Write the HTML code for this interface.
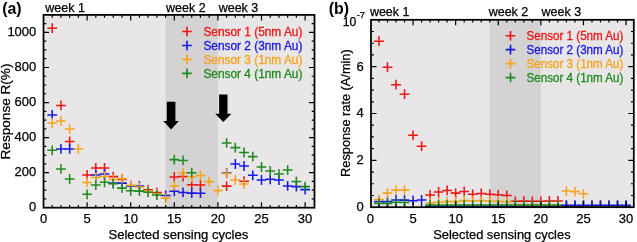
<!DOCTYPE html>
<html><head><meta charset="utf-8"><style>
html,body{margin:0;padding:0;background:#fff;width:637px;height:242px;overflow:hidden}
svg text{font-family:"Liberation Sans", sans-serif}
svg{will-change:transform}
</style></head><body><svg width="637" height="242" viewBox="0 0 637 242" style="display:block"><rect width="637" height="242" fill="#fff"/><rect x="43.5" y="14.9" width="271" height="192.8" fill="#e8e6e7"/><rect x="165.58" y="14.9" width="52.32" height="192.8" fill="#d4d2d3"/><clipPath id="ca"><rect x="43.5" y="14.9" width="271" height="192.8"/></clipPath><g clip-path="url(#ca)"><path d="M47.32 28.2H57.12M52.22 23.3V33.1" stroke="#f01414" stroke-width="1.55"/><path d="M56.04 105.4H65.84M60.94 100.5V110.3" stroke="#f01414" stroke-width="1.55"/><path d="M64.76 141.4H74.56M69.66 136.5V146.3" stroke="#f01414" stroke-width="1.55"/><path d="M82.2 175H92M87.1 170.1V179.9" stroke="#f01414" stroke-width="1.55"/><path d="M90.92 167.9H100.72M95.82 163V172.8" stroke="#f01414" stroke-width="1.55"/><path d="M99.64 167.9H109.44M104.54 163V172.8" stroke="#f01414" stroke-width="1.55"/><path d="M108.36 176.6H118.16M113.26 171.7V181.5" stroke="#f01414" stroke-width="1.55"/><path d="M117.08 179.5H126.88M121.98 174.6V184.4" stroke="#f01414" stroke-width="1.55"/><path d="M143.24 189.7H153.04M148.14 184.8V194.6" stroke="#f01414" stroke-width="1.55"/><path d="M151.96 192.4H161.76M156.86 187.5V197.3" stroke="#f01414" stroke-width="1.55"/><path d="M169.4 176.9H179.2M174.3 172V181.8" stroke="#f01414" stroke-width="1.55"/><path d="M178.12 176.5H187.92M183.02 171.6V181.4" stroke="#f01414" stroke-width="1.55"/><path d="M186.84 184.7H196.64M191.74 179.8V189.6" stroke="#f01414" stroke-width="1.55"/><path d="M195.56 185H205.36M200.46 180.1V189.9" stroke="#f01414" stroke-width="1.55"/><path d="M221.72 186.1H231.52M226.62 181.2V191" stroke="#f01414" stroke-width="1.55"/><path d="M239.16 181.2H248.96M244.06 176.3V186.1" stroke="#f01414" stroke-width="1.55"/><path d="M47.32 114.9H57.12M52.22 110V119.8" stroke="#1818e6" stroke-width="1.55"/><path d="M56.04 148.9H65.84M60.94 144V153.8" stroke="#1818e6" stroke-width="1.55"/><path d="M64.76 148.9H74.56M69.66 144V153.8" stroke="#1818e6" stroke-width="1.55"/><path d="M90.92 175H100.72M95.82 170.1V179.9" stroke="#1818e6" stroke-width="1.55"/><path d="M99.64 174H109.44M104.54 169.1V178.9" stroke="#1818e6" stroke-width="1.55"/><path d="M108.36 183.1H118.16M113.26 178.2V188" stroke="#1818e6" stroke-width="1.55"/><path d="M117.08 183.1H126.88M121.98 178.2V188" stroke="#1818e6" stroke-width="1.55"/><path d="M125.8 186H135.6M130.7 181.1V190.9" stroke="#1818e6" stroke-width="1.55"/><path d="M134.52 186H144.32M139.42 181.1V190.9" stroke="#1818e6" stroke-width="1.55"/><path d="M160.68 195.5H170.48M165.58 190.6V200.4" stroke="#1818e6" stroke-width="1.55"/><path d="M169.4 191.3H179.2M174.3 186.4V196.2" stroke="#1818e6" stroke-width="1.55"/><path d="M178.12 192.4H187.92M183.02 187.5V197.3" stroke="#1818e6" stroke-width="1.55"/><path d="M186.84 193.1H196.64M191.74 188.2V198" stroke="#1818e6" stroke-width="1.55"/><path d="M195.56 193.2H205.36M200.46 188.3V198.1" stroke="#1818e6" stroke-width="1.55"/><path d="M221.72 172.9H231.52M226.62 168V177.8" stroke="#1818e6" stroke-width="1.55"/><path d="M230.44 164H240.24M235.34 159.1V168.9" stroke="#1818e6" stroke-width="1.55"/><path d="M239.16 166H248.96M244.06 161.1V170.9" stroke="#1818e6" stroke-width="1.55"/><path d="M247.88 175.3H257.68M252.78 170.4V180.2" stroke="#1818e6" stroke-width="1.55"/><path d="M256.6 180H266.4M261.5 175.1V184.9" stroke="#1818e6" stroke-width="1.55"/><path d="M265.32 179.3H275.12M270.22 174.4V184.2" stroke="#1818e6" stroke-width="1.55"/><path d="M274.04 180H283.84M278.94 175.1V184.9" stroke="#1818e6" stroke-width="1.55"/><path d="M282.76 185.9H292.56M287.66 181V190.8" stroke="#1818e6" stroke-width="1.55"/><path d="M291.48 186.6H301.28M296.38 181.7V191.5" stroke="#1818e6" stroke-width="1.55"/><path d="M300.2 189.6H310M305.1 184.7V194.5" stroke="#1818e6" stroke-width="1.55"/><path d="M47.32 123H57.12M52.22 118.1V127.9" stroke="#f7a21b" stroke-width="1.55"/><path d="M56.04 120.9H65.84M60.94 116V125.8" stroke="#f7a21b" stroke-width="1.55"/><path d="M64.76 129H74.56M69.66 124.1V133.9" stroke="#f7a21b" stroke-width="1.55"/><path d="M73.48 148.9H83.28M78.38 144V153.8" stroke="#f7a21b" stroke-width="1.55"/><path d="M82.2 182.4H92M87.1 177.5V187.3" stroke="#f7a21b" stroke-width="1.55"/><path d="M90.92 177.4H100.72M95.82 172.5V182.3" stroke="#f7a21b" stroke-width="1.55"/><path d="M99.64 176.5H109.44M104.54 171.6V181.4" stroke="#f7a21b" stroke-width="1.55"/><path d="M108.36 179.5H118.16M113.26 174.6V184.4" stroke="#f7a21b" stroke-width="1.55"/><path d="M117.08 178.7H126.88M121.98 173.8V183.6" stroke="#f7a21b" stroke-width="1.55"/><path d="M125.8 185.2H135.6M130.7 180.3V190.1" stroke="#f7a21b" stroke-width="1.55"/><path d="M134.52 187H144.32M139.42 182.1V191.9" stroke="#f7a21b" stroke-width="1.55"/><path d="M143.24 190.9H153.04M148.14 186V195.8" stroke="#f7a21b" stroke-width="1.55"/><path d="M151.96 193.8H161.76M156.86 188.9V198.7" stroke="#f7a21b" stroke-width="1.55"/><path d="M160.68 198.3H170.48M165.58 193.4V203.2" stroke="#f7a21b" stroke-width="1.55"/><path d="M169.4 185.7H179.2M174.3 180.8V190.6" stroke="#f7a21b" stroke-width="1.55"/><path d="M178.12 172.9H187.92M183.02 168V177.8" stroke="#f7a21b" stroke-width="1.55"/><path d="M186.84 177H196.64M191.74 172.1V181.9" stroke="#f7a21b" stroke-width="1.55"/><path d="M195.56 175.5H205.36M200.46 170.6V180.4" stroke="#f7a21b" stroke-width="1.55"/><path d="M204.28 181.6H214.08M209.18 176.7V186.5" stroke="#f7a21b" stroke-width="1.55"/><path d="M213 190.5H222.8M217.9 185.6V195.4" stroke="#f7a21b" stroke-width="1.55"/><path d="M221.72 173.5H231.52M226.62 168.6V178.4" stroke="#f7a21b" stroke-width="1.55"/><path d="M230.44 180H240.24M235.34 175.1V184.9" stroke="#f7a21b" stroke-width="1.55"/><path d="M239.16 184H248.96M244.06 179.1V188.9" stroke="#f7a21b" stroke-width="1.55"/><path d="M47.32 150.3H57.12M52.22 145.4V155.2" stroke="#1f8a1f" stroke-width="1.55"/><path d="M56.04 168.9H65.84M60.94 164V173.8" stroke="#1f8a1f" stroke-width="1.55"/><path d="M64.76 179H74.56M69.66 174.1V183.9" stroke="#1f8a1f" stroke-width="1.55"/><path d="M82.2 194.3H92M87.1 189.4V199.2" stroke="#1f8a1f" stroke-width="1.55"/><path d="M90.92 185H100.72M95.82 180.1V189.9" stroke="#1f8a1f" stroke-width="1.55"/><path d="M99.64 182.3H109.44M104.54 177.4V187.2" stroke="#1f8a1f" stroke-width="1.55"/><path d="M108.36 183.8H118.16M113.26 178.9V188.7" stroke="#1f8a1f" stroke-width="1.55"/><path d="M117.08 188.1H126.88M121.98 183.2V193" stroke="#1f8a1f" stroke-width="1.55"/><path d="M125.8 190.8H135.6M130.7 185.9V195.7" stroke="#1f8a1f" stroke-width="1.55"/><path d="M134.52 191.1H144.32M139.42 186.2V196" stroke="#1f8a1f" stroke-width="1.55"/><path d="M143.24 192.3H153.04M148.14 187.4V197.2" stroke="#1f8a1f" stroke-width="1.55"/><path d="M151.96 195H161.76M156.86 190.1V199.9" stroke="#1f8a1f" stroke-width="1.55"/><path d="M169.4 159.6H179.2M174.3 154.7V164.5" stroke="#1f8a1f" stroke-width="1.55"/><path d="M178.12 160.4H187.92M183.02 155.5V165.3" stroke="#1f8a1f" stroke-width="1.55"/><path d="M186.84 172.7H196.64M191.74 167.8V177.6" stroke="#1f8a1f" stroke-width="1.55"/><path d="M221.72 142.9H231.52M226.62 138V147.8" stroke="#1f8a1f" stroke-width="1.55"/><path d="M230.44 147.6H240.24M235.34 142.7V152.5" stroke="#1f8a1f" stroke-width="1.55"/><path d="M239.16 152.5H248.96M244.06 147.6V157.4" stroke="#1f8a1f" stroke-width="1.55"/><path d="M247.88 156.6H257.68M252.78 151.7V161.5" stroke="#1f8a1f" stroke-width="1.55"/><path d="M256.6 167H266.4M261.5 162.1V171.9" stroke="#1f8a1f" stroke-width="1.55"/><path d="M265.32 171H275.12M270.22 166.1V175.9" stroke="#1f8a1f" stroke-width="1.55"/><path d="M274.04 174H283.84M278.94 169.1V178.9" stroke="#1f8a1f" stroke-width="1.55"/><path d="M282.76 170H292.56M287.66 165.1V174.9" stroke="#1f8a1f" stroke-width="1.55"/><path d="M291.48 181.4H301.28M296.38 176.5V186.3" stroke="#1f8a1f" stroke-width="1.55"/><path d="M300.2 186.6H310M305.1 181.7V191.5" stroke="#1f8a1f" stroke-width="1.55"/></g><path d="M52.22 207.7V204.9M52.22 14.9V17.7M60.94 207.7V204.9M60.94 14.9V17.7M69.66 207.7V204.9M69.66 14.9V17.7M78.38 207.7V204.9M78.38 14.9V17.7M87.1 207.7V202.2M87.1 14.9V20.4M95.82 207.7V204.9M95.82 14.9V17.7M104.54 207.7V204.9M104.54 14.9V17.7M113.26 207.7V204.9M113.26 14.9V17.7M121.98 207.7V204.9M121.98 14.9V17.7M130.7 207.7V202.2M130.7 14.9V20.4M139.42 207.7V204.9M139.42 14.9V17.7M148.14 207.7V204.9M148.14 14.9V17.7M156.86 207.7V204.9M156.86 14.9V17.7M165.58 207.7V204.9M165.58 14.9V17.7M174.3 207.7V202.2M174.3 14.9V20.4M183.02 207.7V204.9M183.02 14.9V17.7M191.74 207.7V204.9M191.74 14.9V17.7M200.46 207.7V204.9M200.46 14.9V17.7M209.18 207.7V204.9M209.18 14.9V17.7M217.9 207.7V202.2M217.9 14.9V20.4M226.62 207.7V204.9M226.62 14.9V17.7M235.34 207.7V204.9M235.34 14.9V17.7M244.06 207.7V204.9M244.06 14.9V17.7M252.78 207.7V204.9M252.78 14.9V17.7M261.5 207.7V202.2M261.5 14.9V20.4M270.22 207.7V204.9M270.22 14.9V17.7M278.94 207.7V204.9M278.94 14.9V17.7M287.66 207.7V204.9M287.66 14.9V17.7M296.38 207.7V204.9M296.38 14.9V17.7M305.1 207.7V202.2M305.1 14.9V20.4M43.5 198.94H46.3M314.5 198.94H311.7M43.5 190.17H46.3M314.5 190.17H311.7M43.5 181.41H46.3M314.5 181.41H311.7M43.5 172.65H49M314.5 172.65H309M43.5 163.88H46.3M314.5 163.88H311.7M43.5 155.12H46.3M314.5 155.12H311.7M43.5 146.35H46.3M314.5 146.35H311.7M43.5 137.59H49M314.5 137.59H309M43.5 128.83H46.3M314.5 128.83H311.7M43.5 120.06H46.3M314.5 120.06H311.7M43.5 111.3H46.3M314.5 111.3H311.7M43.5 102.54H49M314.5 102.54H309M43.5 93.77H46.3M314.5 93.77H311.7M43.5 85.01H46.3M314.5 85.01H311.7M43.5 76.25H46.3M314.5 76.25H311.7M43.5 67.48H49M314.5 67.48H309M43.5 58.72H46.3M314.5 58.72H311.7M43.5 49.95H46.3M314.5 49.95H311.7M43.5 41.19H46.3M314.5 41.19H311.7M43.5 32.43H49M314.5 32.43H309M43.5 23.66H46.3M314.5 23.66H311.7" stroke="#000" stroke-width="1.2" fill="none"/><rect x="43.5" y="14.9" width="271" height="192.8" fill="none" stroke="#000" stroke-width="1.75"/><path d="M182.2 31.5H191.8M187 26.7V36.3" stroke="#f01414" stroke-width="1.65"/><text x="203.4" y="35.8" fill="#f01414" stroke="#f01414" stroke-width="0.3" font-size="11.9" textLength="99" lengthAdjust="spacingAndGlyphs">Sensor 1 (5nm Au)</text><path d="M182.2 45.45H191.8M187 40.65V50.25" stroke="#1818e6" stroke-width="1.65"/><text x="203.4" y="49.75" fill="#1818e6" stroke="#1818e6" stroke-width="0.3" font-size="11.9" textLength="99" lengthAdjust="spacingAndGlyphs">Sensor 2 (3nm Au)</text><path d="M182.2 59.4H191.8M187 54.6V64.2" stroke="#f7a21b" stroke-width="1.65"/><text x="203.4" y="63.7" fill="#f7a21b" stroke="#f7a21b" stroke-width="0.3" font-size="11.9" textLength="99" lengthAdjust="spacingAndGlyphs">Sensor 3 (1nm Au)</text><path d="M182.2 73.35H191.8M187 68.55V78.15" stroke="#1f8a1f" stroke-width="1.65"/><text x="203.4" y="77.65" fill="#1f8a1f" stroke="#1f8a1f" stroke-width="0.3" font-size="11.9" textLength="99" lengthAdjust="spacingAndGlyphs">Sensor 4 (1nm Au)</text><rect x="371" y="19.8" width="262.8" height="187.4" fill="#e8e6e7"/><rect x="489.73" y="19.8" width="51.12" height="187.4" fill="#d4d2d3"/><clipPath id="cb"><rect x="371" y="19.8" width="262.8" height="187.4"/></clipPath><g clip-path="url(#cb)"><path d="M374.07 41.2H383.87M378.97 36.3V46.1" stroke="#f01414" stroke-width="1.55"/><path d="M382.59 67.2H392.39M387.49 62.3V72.1" stroke="#f01414" stroke-width="1.55"/><path d="M391.11 84.7H400.91M396.01 79.8V89.6" stroke="#f01414" stroke-width="1.55"/><path d="M399.63 94.2H409.43M404.53 89.3V99.1" stroke="#f01414" stroke-width="1.55"/><path d="M408.15 135.3H417.95M413.05 130.4V140.2" stroke="#f01414" stroke-width="1.55"/><path d="M416.67 146.2H426.47M421.57 141.3V151.1" stroke="#f01414" stroke-width="1.55"/><path d="M425.19 194.9H434.99M430.09 190V199.8" stroke="#f01414" stroke-width="1.55"/><path d="M433.71 192H443.51M438.61 187.1V196.9" stroke="#f01414" stroke-width="1.55"/><path d="M442.23 190.4H452.03M447.13 185.5V195.3" stroke="#f01414" stroke-width="1.55"/><path d="M450.75 193.1H460.55M455.65 188.2V198" stroke="#f01414" stroke-width="1.55"/><path d="M459.27 191.5H469.07M464.17 186.6V196.4" stroke="#f01414" stroke-width="1.55"/><path d="M467.79 194.3H477.59M472.69 189.4V199.2" stroke="#f01414" stroke-width="1.55"/><path d="M476.31 193.5H486.11M481.21 188.6V198.4" stroke="#f01414" stroke-width="1.55"/><path d="M484.83 194.2H494.63M489.73 189.3V199.1" stroke="#f01414" stroke-width="1.55"/><path d="M493.35 194.8H503.15M498.25 189.9V199.7" stroke="#f01414" stroke-width="1.55"/><path d="M501.87 195.5H511.67M506.77 190.6V200.4" stroke="#f01414" stroke-width="1.55"/><path d="M510.39 201.3H520.19M515.29 196.4V206.2" stroke="#f01414" stroke-width="1.55"/><path d="M518.91 201.1H528.71M523.81 196.2V206" stroke="#f01414" stroke-width="1.55"/><path d="M527.43 201.3H537.23M532.33 196.4V206.2" stroke="#f01414" stroke-width="1.55"/><path d="M535.95 201.3H545.75M540.85 196.4V206.2" stroke="#f01414" stroke-width="1.55"/><path d="M544.47 200.9H554.27M549.37 196V205.8" stroke="#f01414" stroke-width="1.55"/><path d="M552.99 200.9H562.79M557.89 196V205.8" stroke="#f01414" stroke-width="1.55"/><path d="M561.51 206.4H571.31M566.41 201.5V211.3" stroke="#f01414" stroke-width="1.55"/><path d="M570.03 206.4H579.83M574.93 201.5V211.3" stroke="#f01414" stroke-width="1.55"/><path d="M578.55 206.4H588.35M583.45 201.5V211.3" stroke="#f01414" stroke-width="1.55"/><path d="M587.07 206.4H596.87M591.97 201.5V211.3" stroke="#f01414" stroke-width="1.55"/><path d="M595.59 206.4H605.39M600.49 201.5V211.3" stroke="#f01414" stroke-width="1.55"/><path d="M604.11 206.4H613.91M609.01 201.5V211.3" stroke="#f01414" stroke-width="1.55"/><path d="M612.63 206.4H622.43M617.53 201.5V211.3" stroke="#f01414" stroke-width="1.55"/><path d="M621.15 206.4H630.95M626.05 201.5V211.3" stroke="#f01414" stroke-width="1.55"/><path d="M374.07 201.6H383.87M378.97 196.7V206.5" stroke="#1818e6" stroke-width="1.55"/><path d="M382.59 201.6H392.39M387.49 196.7V206.5" stroke="#1818e6" stroke-width="1.55"/><path d="M391.11 199.9H400.91M396.01 195V204.8" stroke="#1818e6" stroke-width="1.55"/><path d="M399.63 200.1H409.43M404.53 195.2V205" stroke="#1818e6" stroke-width="1.55"/><path d="M408.15 200.7H417.95M413.05 195.8V205.6" stroke="#1818e6" stroke-width="1.55"/><path d="M416.67 199.9H426.47M421.57 195V204.8" stroke="#1818e6" stroke-width="1.55"/><path d="M425.19 206.3H434.99M430.09 201.4V211.2" stroke="#1818e6" stroke-width="1.55"/><path d="M433.71 206.3H443.51M438.61 201.4V211.2" stroke="#1818e6" stroke-width="1.55"/><path d="M442.23 206.3H452.03M447.13 201.4V211.2" stroke="#1818e6" stroke-width="1.55"/><path d="M450.75 206.3H460.55M455.65 201.4V211.2" stroke="#1818e6" stroke-width="1.55"/><path d="M459.27 206.3H469.07M464.17 201.4V211.2" stroke="#1818e6" stroke-width="1.55"/><path d="M467.79 206.3H477.59M472.69 201.4V211.2" stroke="#1818e6" stroke-width="1.55"/><path d="M476.31 206.3H486.11M481.21 201.4V211.2" stroke="#1818e6" stroke-width="1.55"/><path d="M484.83 206.3H494.63M489.73 201.4V211.2" stroke="#1818e6" stroke-width="1.55"/><path d="M493.35 206.3H503.15M498.25 201.4V211.2" stroke="#1818e6" stroke-width="1.55"/><path d="M501.87 206.3H511.67M506.77 201.4V211.2" stroke="#1818e6" stroke-width="1.55"/><path d="M510.39 206.3H520.19M515.29 201.4V211.2" stroke="#1818e6" stroke-width="1.55"/><path d="M518.91 206.3H528.71M523.81 201.4V211.2" stroke="#1818e6" stroke-width="1.55"/><path d="M527.43 206.3H537.23M532.33 201.4V211.2" stroke="#1818e6" stroke-width="1.55"/><path d="M535.95 206.3H545.75M540.85 201.4V211.2" stroke="#1818e6" stroke-width="1.55"/><path d="M544.47 206.3H554.27M549.37 201.4V211.2" stroke="#1818e6" stroke-width="1.55"/><path d="M552.99 206.3H562.79M557.89 201.4V211.2" stroke="#1818e6" stroke-width="1.55"/><path d="M374.07 199.5H383.87M378.97 194.6V204.4" stroke="#f7a21b" stroke-width="1.55"/><path d="M382.59 193.1H392.39M387.49 188.2V198" stroke="#f7a21b" stroke-width="1.55"/><path d="M391.11 190.1H400.91M396.01 185.2V195" stroke="#f7a21b" stroke-width="1.55"/><path d="M399.63 190.1H409.43M404.53 185.2V195" stroke="#f7a21b" stroke-width="1.55"/><path d="M425.19 203H434.99M430.09 198.1V207.9" stroke="#f7a21b" stroke-width="1.55"/><path d="M433.71 202.2H443.51M438.61 197.3V207.1" stroke="#f7a21b" stroke-width="1.55"/><path d="M442.23 201.6H452.03M447.13 196.7V206.5" stroke="#f7a21b" stroke-width="1.55"/><path d="M450.75 201.6H460.55M455.65 196.7V206.5" stroke="#f7a21b" stroke-width="1.55"/><path d="M459.27 200.6H469.07M464.17 195.7V205.5" stroke="#f7a21b" stroke-width="1.55"/><path d="M467.79 201H477.59M472.69 196.1V205.9" stroke="#f7a21b" stroke-width="1.55"/><path d="M476.31 200.6H486.11M481.21 195.7V205.5" stroke="#f7a21b" stroke-width="1.55"/><path d="M484.83 200.9H494.63M489.73 196V205.8" stroke="#f7a21b" stroke-width="1.55"/><path d="M493.35 201.2H503.15M498.25 196.3V206.1" stroke="#f7a21b" stroke-width="1.55"/><path d="M501.87 201.8H511.67M506.77 196.9V206.7" stroke="#f7a21b" stroke-width="1.55"/><path d="M510.39 205.3H520.19M515.29 200.4V210.2" stroke="#f7a21b" stroke-width="1.55"/><path d="M518.91 205.3H528.71M523.81 200.4V210.2" stroke="#f7a21b" stroke-width="1.55"/><path d="M527.43 205.3H537.23M532.33 200.4V210.2" stroke="#f7a21b" stroke-width="1.55"/><path d="M535.95 205.3H545.75M540.85 200.4V210.2" stroke="#f7a21b" stroke-width="1.55"/><path d="M544.47 205.3H554.27M549.37 200.4V210.2" stroke="#f7a21b" stroke-width="1.55"/><path d="M552.99 205.3H562.79M557.89 200.4V210.2" stroke="#f7a21b" stroke-width="1.55"/><path d="M561.51 191H571.31M566.41 186.1V195.9" stroke="#f7a21b" stroke-width="1.55"/><path d="M570.03 191.6H579.83M574.93 186.7V196.5" stroke="#f7a21b" stroke-width="1.55"/><path d="M578.55 193.8H588.35M583.45 188.9V198.7" stroke="#f7a21b" stroke-width="1.55"/><path d="M587.07 206H596.87M591.97 201.1V210.9" stroke="#f7a21b" stroke-width="1.55"/><path d="M595.59 206H605.39M600.49 201.1V210.9" stroke="#f7a21b" stroke-width="1.55"/><path d="M604.11 206H613.91M609.01 201.1V210.9" stroke="#f7a21b" stroke-width="1.55"/><path d="M612.63 206H622.43M617.53 201.1V210.9" stroke="#f7a21b" stroke-width="1.55"/><path d="M621.15 206H630.95M626.05 201.1V210.9" stroke="#f7a21b" stroke-width="1.55"/><path d="M374.07 203.4H383.87M378.97 198.5V208.3" stroke="#1f8a1f" stroke-width="1.55"/><path d="M382.59 203.4H392.39M387.49 198.5V208.3" stroke="#1f8a1f" stroke-width="1.55"/><path d="M391.11 202.2H400.91M396.01 197.3V207.1" stroke="#1f8a1f" stroke-width="1.55"/><path d="M399.63 202.5H409.43M404.53 197.6V207.4" stroke="#1f8a1f" stroke-width="1.55"/><path d="M425.19 205H434.99M430.09 200.1V209.9" stroke="#1f8a1f" stroke-width="1.55"/><path d="M433.71 205H443.51M438.61 200.1V209.9" stroke="#1f8a1f" stroke-width="1.55"/><path d="M442.23 205H452.03M447.13 200.1V209.9" stroke="#1f8a1f" stroke-width="1.55"/><path d="M450.75 205H460.55M455.65 200.1V209.9" stroke="#1f8a1f" stroke-width="1.55"/><path d="M459.27 205H469.07M464.17 200.1V209.9" stroke="#1f8a1f" stroke-width="1.55"/><path d="M467.79 205H477.59M472.69 200.1V209.9" stroke="#1f8a1f" stroke-width="1.55"/><path d="M476.31 205H486.11M481.21 200.1V209.9" stroke="#1f8a1f" stroke-width="1.55"/><path d="M484.83 205H494.63M489.73 200.1V209.9" stroke="#1f8a1f" stroke-width="1.55"/><path d="M493.35 205H503.15M498.25 200.1V209.9" stroke="#1f8a1f" stroke-width="1.55"/><path d="M501.87 205H511.67M506.77 200.1V209.9" stroke="#1f8a1f" stroke-width="1.55"/><path d="M510.39 205H520.19M515.29 200.1V209.9" stroke="#1f8a1f" stroke-width="1.55"/><path d="M518.91 205H528.71M523.81 200.1V209.9" stroke="#1f8a1f" stroke-width="1.55"/><path d="M527.43 205H537.23M532.33 200.1V209.9" stroke="#1f8a1f" stroke-width="1.55"/><path d="M535.95 205H545.75M540.85 200.1V209.9" stroke="#1f8a1f" stroke-width="1.55"/><path d="M544.47 205H554.27M549.37 200.1V209.9" stroke="#1f8a1f" stroke-width="1.55"/><path d="M552.99 205H562.79M557.89 200.1V209.9" stroke="#1f8a1f" stroke-width="1.55"/><path d="M561.51 205.8H571.31M566.41 200.9V210.7" stroke="#1f8a1f" stroke-width="1.55"/><path d="M570.03 205.8H579.83M574.93 200.9V210.7" stroke="#1f8a1f" stroke-width="1.55"/><path d="M578.55 205.8H588.35M583.45 200.9V210.7" stroke="#1f8a1f" stroke-width="1.55"/><path d="M587.07 205.8H596.87M591.97 200.9V210.7" stroke="#1f8a1f" stroke-width="1.55"/><path d="M595.59 205.8H605.39M600.49 200.9V210.7" stroke="#1f8a1f" stroke-width="1.55"/><path d="M604.11 205.8H613.91M609.01 200.9V210.7" stroke="#1f8a1f" stroke-width="1.55"/><path d="M612.63 205.8H622.43M617.53 200.9V210.7" stroke="#1f8a1f" stroke-width="1.55"/><path d="M621.15 205.8H630.95M626.05 200.9V210.7" stroke="#1f8a1f" stroke-width="1.55"/><path d="M561.51 205.2H571.31M566.41 200.3V210.1" stroke="#1818e6" stroke-width="1.55"/><path d="M570.03 205.2H579.83M574.93 200.3V210.1" stroke="#1818e6" stroke-width="1.55"/><path d="M578.55 205.2H588.35M583.45 200.3V210.1" stroke="#1818e6" stroke-width="1.55"/><path d="M587.07 205.2H596.87M591.97 200.3V210.1" stroke="#1818e6" stroke-width="1.55"/><path d="M595.59 205.2H605.39M600.49 200.3V210.1" stroke="#1818e6" stroke-width="1.55"/><path d="M604.11 205.2H613.91M609.01 200.3V210.1" stroke="#1818e6" stroke-width="1.55"/><path d="M612.63 205.2H622.43M617.53 200.3V210.1" stroke="#1818e6" stroke-width="1.55"/><path d="M621.15 205.2H630.95M626.05 200.3V210.1" stroke="#1818e6" stroke-width="1.55"/></g><path d="M378.97 207.2V204.4M378.97 19.8V22.6M387.49 207.2V204.4M387.49 19.8V22.6M396.01 207.2V204.4M396.01 19.8V22.6M404.53 207.2V204.4M404.53 19.8V22.6M413.05 207.2V201.7M413.05 19.8V25.3M421.57 207.2V204.4M421.57 19.8V22.6M430.09 207.2V204.4M430.09 19.8V22.6M438.61 207.2V204.4M438.61 19.8V22.6M447.13 207.2V204.4M447.13 19.8V22.6M455.65 207.2V201.7M455.65 19.8V25.3M464.17 207.2V204.4M464.17 19.8V22.6M472.69 207.2V204.4M472.69 19.8V22.6M481.21 207.2V204.4M481.21 19.8V22.6M489.73 207.2V204.4M489.73 19.8V22.6M498.25 207.2V201.7M498.25 19.8V25.3M506.77 207.2V204.4M506.77 19.8V22.6M515.29 207.2V204.4M515.29 19.8V22.6M523.81 207.2V204.4M523.81 19.8V22.6M532.33 207.2V204.4M532.33 19.8V22.6M540.85 207.2V201.7M540.85 19.8V25.3M549.37 207.2V204.4M549.37 19.8V22.6M557.89 207.2V204.4M557.89 19.8V22.6M566.41 207.2V204.4M566.41 19.8V22.6M574.93 207.2V204.4M574.93 19.8V22.6M583.45 207.2V201.7M583.45 19.8V25.3M591.97 207.2V204.4M591.97 19.8V22.6M600.49 207.2V204.4M600.49 19.8V22.6M609.01 207.2V204.4M609.01 19.8V22.6M617.53 207.2V204.4M617.53 19.8V22.6M626.05 207.2V201.7M626.05 19.8V25.3M371 195.49H373.8M633.8 195.49H631M371 183.77H373.8M633.8 183.77H631M371 172.06H373.8M633.8 172.06H631M371 160.35H376.5M633.8 160.35H628.3M371 148.64H373.8M633.8 148.64H631M371 136.93H373.8M633.8 136.93H631M371 125.21H373.8M633.8 125.21H631M371 113.5H376.5M633.8 113.5H628.3M371 101.79H373.8M633.8 101.79H631M371 90.08H373.8M633.8 90.08H631M371 78.36H373.8M633.8 78.36H631M371 66.65H376.5M633.8 66.65H628.3M371 54.94H373.8M633.8 54.94H631M371 43.23H373.8M633.8 43.23H631M371 31.51H373.8M633.8 31.51H631" stroke="#000" stroke-width="1.2" fill="none"/><rect x="371" y="19.8" width="262.8" height="187.4" fill="none" stroke="#000" stroke-width="1.75"/><path d="M505.7 35.7H515.3M510.5 30.9V40.5" stroke="#f01414" stroke-width="1.65"/><text x="526.6" y="40.4" fill="#f01414" stroke="#f01414" stroke-width="0.3" font-size="11.9" textLength="96.8" lengthAdjust="spacingAndGlyphs">Sensor 1 (5nm Au)</text><path d="M505.7 49.65H515.3M510.5 44.85V54.45" stroke="#1818e6" stroke-width="1.65"/><text x="526.6" y="54.35" fill="#1818e6" stroke="#1818e6" stroke-width="0.3" font-size="11.9" textLength="96.8" lengthAdjust="spacingAndGlyphs">Sensor 2 (3nm Au)</text><path d="M505.7 63.6H515.3M510.5 58.8V68.4" stroke="#f7a21b" stroke-width="1.65"/><text x="526.6" y="68.3" fill="#f7a21b" stroke="#f7a21b" stroke-width="0.3" font-size="11.9" textLength="96.8" lengthAdjust="spacingAndGlyphs">Sensor 3 (1nm Au)</text><path d="M505.7 77.55H515.3M510.5 72.75V82.35" stroke="#1f8a1f" stroke-width="1.65"/><text x="526.6" y="82.25" fill="#1f8a1f" stroke="#1f8a1f" stroke-width="0.3" font-size="11.9" textLength="96.8" lengthAdjust="spacingAndGlyphs">Sensor 4 (1nm Au)</text><path d="M166.8 101.8H175.4V120.9H178.9L171.1 129.4L163.3 120.9H166.8Z" fill="#000"/><path d="M219.1 94.5H227.5V113.7H231.4L223.3 121.9L215.2 113.7H219.1Z" fill="#000"/><g fill="#000" stroke="#000" stroke-width="0.25"><text x="2.2" y="13.7" font-size="15.9" text-anchor="start" font-weight="bold" stroke-width="0">(a)</text><text x="328.8" y="13.7" font-size="15.9" text-anchor="start" font-weight="bold" stroke-width="0">(b)</text><text x="45.3" y="12.1" font-size="12.5" text-anchor="start">week 1</text><text x="166" y="11.9" font-size="12.5" text-anchor="start">week 2</text><text x="218.7" y="11.9" font-size="12.5" text-anchor="start">week 3</text><text x="369.9" y="15.9" font-size="12.5" text-anchor="start">week 1</text><text x="488.7" y="15.7" font-size="12.5" text-anchor="start">week 2</text><text x="541.5" y="15.7" font-size="12.5" text-anchor="start">week 3</text><text x="43.5" y="222.8" font-size="13" text-anchor="middle">0</text><text x="370.45" y="222.8" font-size="13" text-anchor="middle">0</text><text x="87.1" y="222.8" font-size="13" text-anchor="middle">5</text><text x="413.05" y="222.8" font-size="13" text-anchor="middle">5</text><text x="130.7" y="222.8" font-size="13" text-anchor="middle">10</text><text x="455.65" y="222.8" font-size="13" text-anchor="middle">10</text><text x="174.3" y="222.8" font-size="13" text-anchor="middle">15</text><text x="498.25" y="222.8" font-size="13" text-anchor="middle">15</text><text x="217.9" y="222.8" font-size="13" text-anchor="middle">20</text><text x="540.85" y="222.8" font-size="13" text-anchor="middle">20</text><text x="261.5" y="222.8" font-size="13" text-anchor="middle">25</text><text x="583.45" y="222.8" font-size="13" text-anchor="middle">25</text><text x="305.1" y="222.8" font-size="13" text-anchor="middle">30</text><text x="626.05" y="222.8" font-size="13" text-anchor="middle">30</text><text x="36.3" y="211.4" font-size="13" text-anchor="end">0</text><text x="36.3" y="176.35" font-size="13" text-anchor="end">200</text><text x="36.3" y="141.29" font-size="13" text-anchor="end">400</text><text x="36.3" y="106.24" font-size="13" text-anchor="end">600</text><text x="36.3" y="71.18" font-size="13" text-anchor="end">800</text><text x="36.3" y="36.13" font-size="13" text-anchor="end">1000</text><text x="363.7" y="211.1" font-size="13" text-anchor="end">0</text><text x="363.7" y="164.25" font-size="13" text-anchor="end">2</text><text x="363.7" y="117.4" font-size="13" text-anchor="end">4</text><text x="363.7" y="70.55" font-size="13" text-anchor="end">6</text><text x="356.4" y="25.7" font-size="12.2" text-anchor="end">10</text><text x="356.8" y="17.9" font-size="9.2" text-anchor="start">-7</text><text x="178.4" y="239" font-size="13" text-anchor="middle" textLength="140" lengthAdjust="spacingAndGlyphs">Selected sensing cycles</text><text x="501.9" y="239" font-size="13" text-anchor="middle" textLength="137.4" lengthAdjust="spacingAndGlyphs">Selected sensing cycles</text><text transform="translate(10.2 111.5) rotate(-90)" font-size="12.8" text-anchor="middle" textLength="96" lengthAdjust="spacingAndGlyphs">Response R(%)</text><text transform="translate(350.0 113.1) rotate(-90)" font-size="12.8" text-anchor="middle" textLength="127.6" lengthAdjust="spacingAndGlyphs">Response rate (A/min)</text></g></svg></body></html>
